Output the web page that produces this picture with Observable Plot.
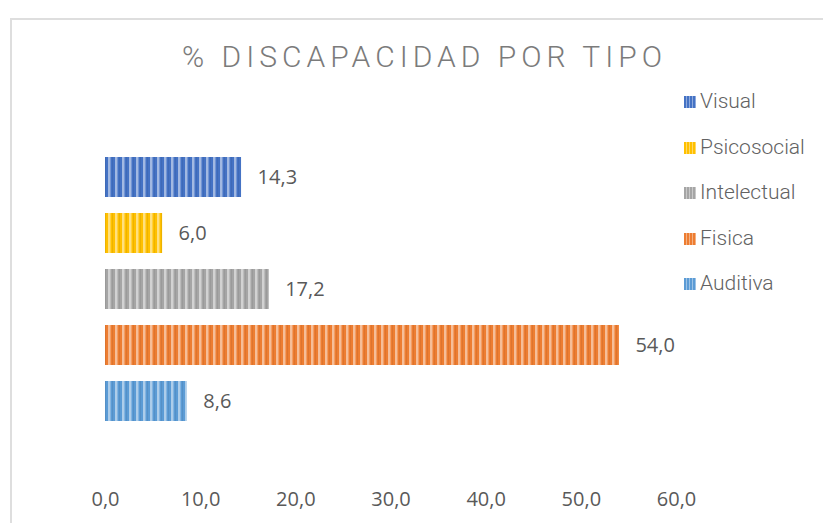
<!DOCTYPE html>
<html>
<head>
<meta charset="utf-8">
<script src="https://cdn.jsdelivr.net/npm/d3@7"></script>
<script src="https://cdn.jsdelivr.net/npm/@observablehq/plot@0.6"></script>
<style>
  html, body { margin: 0; padding: 0; background: #fff; width: 823px; height: 523px; overflow: hidden; }
  #frame { position: absolute; left: 10px; top: 18px; width: 900px; height: 600px; border: 2px solid #dedede; box-sizing: border-box; }
  #title { position: absolute; left: 12px; width: 825px; top: 42px; text-align: center; font-family: Roboto, sans-serif; font-size: 30px; line-height: 30px; letter-spacing: 5px; color: #7b7b7b; font-weight: 300; }
  #chart { position: absolute; left: 0; top: 0; }
  .leg { position: absolute; left: 684px; height: 20px; font-family: Roboto, sans-serif; font-size: 21px; line-height: 20px; color: #626262; white-space: nowrap; font-weight: 300; }
  .leg .sw { position: absolute; left: 0; top: 5px; width: 12px; height: 12px; }
  .leg .lb { position: absolute; left: 16px; top: 0; }
</style>
</head>
<body>
<div id="frame"></div>
<div id="title">% DISCAPACIDAD POR TIPO</div>
<div id="chart"></div>
<div id="legend"></div>
<script>
const categorias = ["Visual", "Psicosocial", "Intelectual", "Fisica", "Auditiva"];
const valores = [14.3, 6.0, 17.2, 54.0, 8.6];
const colores = ["#4472c4", "#ffc000", "#a5a5a5", "#ed7d31", "#5b9bd5"];
const ticksX = [0, 10, 20, 30, 40, 50, 60];

const datos = categorias.map((c, i) => ({cat: c, val: valores[i], idx: i}));
const fmt = v => v.toFixed(1).replace(".", ",");

const chart = Plot.plot({
  width: 823,
  height: 523,
  marginLeft: 105,
  marginRight: 147,
  marginTop: 138.5,
  marginBottom: 83.5,
  style: {fontFamily: "'Open Sans', sans-serif", fontSize: "20px", color: "#595959", background: "transparent"},
  x: {domain: [0, 60], ticks: ticksX, tickFormat: fmt, tickSize: 0, tickPadding: 52, label: null},
  y: {domain: categorias, axis: null, paddingInner: 0.281, paddingOuter: 0.281},
  color: {type: "identity"},
  marks: [
    Plot.barX(datos, {y: "cat", x: "val", fill: d => `url(#pat${d.idx})`}),
    Plot.text(datos, {y: "cat", x: "val", text: d => fmt(d.val), textAnchor: "start", dx: 16, fill: "#595959", fontSize: 20})
  ]
});

const defs = d3.select(chart).insert("defs", ":first-child");
colores.forEach((c, i) => {
  const p = defs.append("pattern").attr("id", "pat" + i)
    .attr("patternUnits", "userSpaceOnUse").attr("width", 7).attr("height", 10);
  p.append("rect").attr("width", 7).attr("height", 10).attr("fill", c);
  p.append("rect").attr("x", 3).attr("width", 2).attr("height", 10).attr("fill", d3.interpolateRgb(c, "#ffffff")(0.5));
  p.append("rect").attr("x", 5).attr("width", 1).attr("height", 10).attr("fill", d3.interpolateRgb(c, "#ffffff")(0.25));
  p.append("rect").attr("x", 0).attr("width", 1).attr("height", 10).attr("fill", d3.color(c).darker(0.2).formatHex());
});

document.getElementById("chart").appendChild(chart);

const legend = document.getElementById("legend");
categorias.forEach((c, i) => {
  const col = colores[i];
  const light = d3.interpolateRgb(col, "#ffffff")(0.4);
  const row = document.createElement("div");
  row.className = "leg";
  row.style.top = (91 + i * 45.5) + "px";
  row.innerHTML = `<div class="sw" style="background: repeating-linear-gradient(90deg, ${col} 0 2px, ${light} 2px 3px)"></div><div class="lb">${c}</div>`;
  legend.appendChild(row);
});
</script>
</body>
</html>
